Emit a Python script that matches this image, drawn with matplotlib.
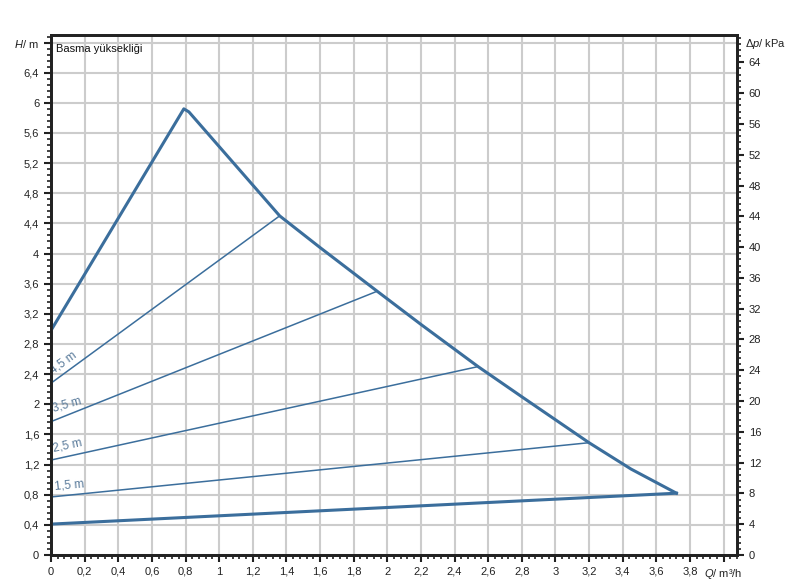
import matplotlib.pyplot as plt
import numpy as np
from matplotlib.ticker import MultipleLocator

plt.rcParams["font.family"] = ["Liberation Sans", "DejaVu Sans"]
plt.rcParams["mathtext.fontset"] = "custom"
plt.rcParams["mathtext.it"] = "Liberation Sans:italic"
plt.rcParams["mathtext.rm"] = "Liberation Sans"

# max curve (Q in m3/h, H in m)
max_q = [0.0, 0.79, 0.82, 1.36, 1.6, 1.94, 2.2, 2.54, 2.8, 3.2, 3.45, 3.72]
max_h = [2.98, 5.92, 5.88, 4.50, 4.08, 3.50, 3.06, 2.50, 2.10, 1.49, 1.14, 0.82]
# min curve
min_q = [0.0, 3.72]
min_h = [0.41, 0.82]

# constant pressure lines
cp_names = ["4,5 m", "3,5 m", "2,5 m", "1,5 m"]
cp_h0 = [2.28, 1.77, 1.26, 0.77]
cp_q1 = [1.36, 1.94, 2.54, 3.2]
cp_h1 = [4.50, 3.50, 2.50, 1.49]
cp_label_y = [2.37, 1.86, 1.34, 0.83]
cp_rot = [36, 16, 12, 5]

x_ticks = np.round(np.arange(0, 4.01, 0.2), 1)
y_ticks = np.round(np.arange(0, 6.81, 0.4), 1)
kpa_per_m = 9.79

fig = plt.figure(figsize=(8.11, 5.88), dpi=100)
ax = fig.add_axes([51 / 811, 1 - 555 / 588, (737 - 51) / 811, (555 - 35) / 588])

line_col = "#3b6e9c"
ax.plot(max_q, max_h, color=line_col, lw=2.2, zorder=3, solid_joinstyle="round")
ax.plot(min_q, min_h, color=line_col, lw=2.2, zorder=3)
for h0, q1, h1, name, ly, rot in zip(cp_h0, cp_q1, cp_h1, cp_names, cp_label_y, cp_rot):
    ax.plot([0, q1], [h0, h1], color=line_col, lw=1.1, zorder=3)
    ax.text(0.022, ly, name, color="#5a7b9b", fontsize=8.5, rotation=rot,
            rotation_mode="anchor", ha="left", va="bottom", zorder=4)

ax.set_xlim(0, 4.08)
ax.set_ylim(0, 6.9)
ax.set_xticks(x_ticks)
ax.set_yticks(y_ticks)
xl = [("%g" % v).replace(".", ",") for v in x_ticks]
xl[-1] = "$Q$/ m³/h"
yl = [("%g" % v).replace(".", ",") for v in y_ticks]
yl[-1] = "$H$/ m"
ax.set_xticklabels(xl)
ax.set_yticklabels(yl)
ax.xaxis.set_minor_locator(MultipleLocator(0.04))
ax.yaxis.set_minor_locator(MultipleLocator(0.08))
ax.grid(True, which="major", color="#cccccc", lw=1.5, zorder=0)
ax.tick_params(which="major", length=5, width=1.5, labelsize=8, colors="#222222")
ax.tick_params(which="minor", length=3, width=1.2, color="#222222")
for s in ax.spines.values():
    s.set_linewidth(2)
    s.set_color("#222222")

ax.text(0.03, 6.72, "Basma yüksekliği", fontsize=8, color="#111111", va="center")

ax2 = ax.twinx()
ax2.set_ylim(0, 6.9 * kpa_per_m)
ax2.set_yticks(np.arange(0, 65, 4))
ax2.yaxis.set_minor_locator(MultipleLocator(0.8))
ax2.tick_params(which="major", length=5, width=1.5, labelsize=8, colors="#222222")
ax2.tick_params(which="minor", length=3, width=1.2, color="#222222")
for s in ax2.spines.values():
    s.set_linewidth(2)
    s.set_color("#222222")
ax2.text(1.012, 6.78 / 6.9, "$\\Delta p$/ kPa", transform=ax.transAxes, fontsize=8,
         va="center", ha="left", color="#222222")

fig.savefig("out.png", dpi=100)
